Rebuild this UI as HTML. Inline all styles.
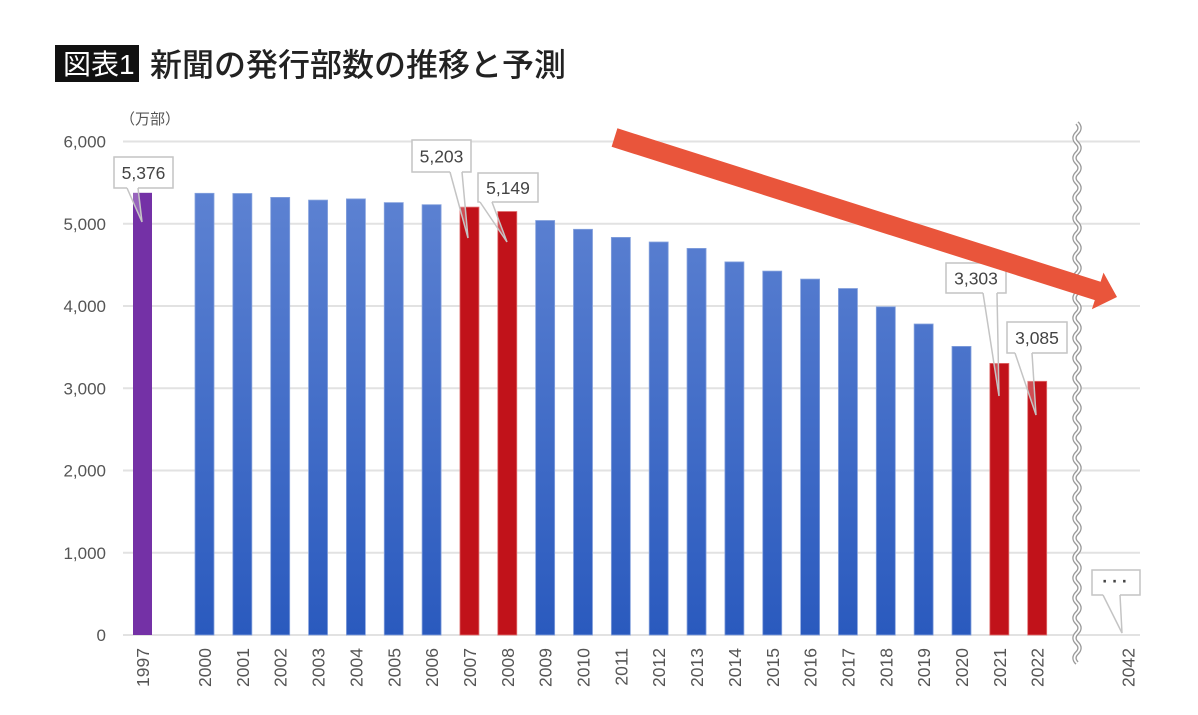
<!DOCTYPE html>
<html><head><meta charset="utf-8"><style>
html,body{margin:0;padding:0;background:#fff;}
svg{display:block;}
text{font-family:"Liberation Sans","Noto Sans CJK JP",sans-serif;}
</style></head><body>
<svg width="1198" height="715" viewBox="0 0 1198 715" xmlns="http://www.w3.org/2000/svg">
<defs>
<linearGradient id="bg" gradientUnits="userSpaceOnUse" x1="0" y1="190" x2="0" y2="635">
<stop offset="0" stop-color="#5d82d2"/><stop offset="1" stop-color="#2a5abe"/>
</linearGradient>
</defs>
<rect width="1198" height="715" fill="#fff"/>
<!-- title -->
<rect x="55" y="45" width="84" height="37" fill="#111"/>
<text x="63" y="74" font-size="28" fill="#fff">図表1</text>
<text x="150" y="76" font-size="32" fill="#222" font-weight="500">新聞の発行部数の推移と予測</text>
<text x="120" y="124" font-size="15" fill="#555">（万部）</text>
<!-- gridlines -->
<g stroke="#e2e2e2" stroke-width="2">
<line x1="123" x2="1140" y1="141.5" y2="141.5"/>
<line x1="123" x2="1140" y1="223.75" y2="223.75"/>
<line x1="123" x2="1140" y1="306" y2="306"/>
<line x1="123" x2="1140" y1="388.25" y2="388.25"/>
<line x1="123" x2="1140" y1="470.5" y2="470.5"/>
<line x1="123" x2="1140" y1="552.75" y2="552.75"/>
<line x1="123" x2="1140" y1="635" y2="635"/>
</g>
<g font-size="17" fill="#555" text-anchor="end">
<text x="106" y="147.5">6,000</text>
<text x="106" y="229.75">5,000</text>
<text x="106" y="312">4,000</text>
<text x="106" y="394.25">3,000</text>
<text x="106" y="476.5">2,000</text>
<text x="106" y="558.75">1,000</text>
<text x="106" y="641">0</text>
</g>
<!-- bars -->
<rect x="133" y="192.8" width="19" height="442.2" fill="#7431a6"/>
<g fill="url(#bg)" stroke="#86a2dd" stroke-width="0.8">
<rect x="195" y="193.3" width="19" height="441.7"/>
<rect x="232.85" y="193.5" width="19" height="441.5"/>
<rect x="270.7" y="197.4" width="19" height="437.6"/>
<rect x="308.55" y="200.1" width="19" height="434.9"/>
<rect x="346.4" y="198.9" width="19" height="436.1"/>
<rect x="384.25" y="202.6" width="19" height="432.4"/>
<rect x="422.1" y="204.7" width="19" height="430.3"/>
<rect x="535.65" y="220.5" width="19" height="414.5"/>
<rect x="573.5" y="229.3" width="19" height="405.7"/>
<rect x="611.35" y="237.4" width="19" height="397.6"/>
<rect x="649.2" y="242" width="19" height="393"/>
<rect x="687.05" y="248.4" width="19" height="386.6"/>
<rect x="724.9" y="261.9" width="19" height="373.1"/>
<rect x="762.75" y="271.1" width="19" height="363.9"/>
<rect x="800.6" y="279.1" width="19" height="355.9"/>
<rect x="838.45" y="288.5" width="19" height="346.5"/>
<rect x="876.3" y="306.8" width="19" height="328.2"/>
<rect x="914.15" y="324" width="19" height="311"/>
<rect x="952" y="346.4" width="19" height="288.6"/>
</g>
<g fill="#c1121a" stroke="#e07070" stroke-width="0.8">
<rect x="459.95" y="207.1" width="19" height="427.9"/>
<rect x="497.8" y="211.5" width="19" height="423.5"/>
<rect x="989.85" y="363.4" width="19" height="271.6"/>
<rect x="1027.7" y="381.3" width="19" height="253.7"/>
</g>
<!-- year labels -->
<g font-size="17.5" fill="#555" text-anchor="end">
<text transform="translate(149,648) rotate(-90)">1997</text>
<text transform="translate(211,648) rotate(-90)">2000</text>
<text transform="translate(248.85,648) rotate(-90)">2001</text>
<text transform="translate(286.7,648) rotate(-90)">2002</text>
<text transform="translate(324.55,648) rotate(-90)">2003</text>
<text transform="translate(362.4,648) rotate(-90)">2004</text>
<text transform="translate(400.25,648) rotate(-90)">2005</text>
<text transform="translate(438.1,648) rotate(-90)">2006</text>
<text transform="translate(475.95,648) rotate(-90)">2007</text>
<text transform="translate(513.8,648) rotate(-90)">2008</text>
<text transform="translate(551.65,648) rotate(-90)">2009</text>
<text transform="translate(589.5,648) rotate(-90)">2010</text>
<text transform="translate(627.35,648) rotate(-90)">2011</text>
<text transform="translate(665.2,648) rotate(-90)">2012</text>
<text transform="translate(703.05,648) rotate(-90)">2013</text>
<text transform="translate(740.9,648) rotate(-90)">2014</text>
<text transform="translate(778.75,648) rotate(-90)">2015</text>
<text transform="translate(816.6,648) rotate(-90)">2016</text>
<text transform="translate(854.45,648) rotate(-90)">2017</text>
<text transform="translate(892.3,648) rotate(-90)">2018</text>
<text transform="translate(930.15,648) rotate(-90)">2019</text>
<text transform="translate(968,648) rotate(-90)">2020</text>
<text transform="translate(1005.85,648) rotate(-90)">2021</text>
<text transform="translate(1043.7,648) rotate(-90)">2022</text>
<text transform="translate(1134.5,648) rotate(-90)">2042</text>
</g>
<!-- wavy break -->
<path d="M1077,123 q5,5 0,10 t0,10 t0,10 t0,10 t0,10 t0,10 t0,10 t0,10 t0,10 t0,10 t0,10 t0,10 t0,10 t0,10 t0,10 t0,10 t0,10 t0,10 t0,10 t0,10 t0,10 t0,10 t0,10 t0,10 t0,10 t0,10 t0,10 t0,10 t0,10 t0,10 t0,10 t0,10 t0,10 t0,10 t0,10 t0,10 t0,10 t0,10 t0,10 t0,10 t0,10 t0,10 t0,10 t0,10 t0,10 t0,10 t0,10 t0,10 t0,10 t0,10 t0,10 t0,10 t0,10 t0,10" fill="none" stroke="#9a9a9a" stroke-width="4.5"/>
<path d="M1077,123 q5,5 0,10 t0,10 t0,10 t0,10 t0,10 t0,10 t0,10 t0,10 t0,10 t0,10 t0,10 t0,10 t0,10 t0,10 t0,10 t0,10 t0,10 t0,10 t0,10 t0,10 t0,10 t0,10 t0,10 t0,10 t0,10 t0,10 t0,10 t0,10 t0,10 t0,10 t0,10 t0,10 t0,10 t0,10 t0,10 t0,10 t0,10 t0,10 t0,10 t0,10 t0,10 t0,10 t0,10 t0,10 t0,10 t0,10 t0,10 t0,10 t0,10 t0,10 t0,10 t0,10 t0,10 t0,10" fill="none" stroke="#fff" stroke-width="1.8"/>
<!-- callouts -->
<g stroke="#c4c4c4" stroke-width="1.5">
<path d="M127,188 H114 V157 H173 V188 H138" fill="#fff"/>
<path d="M127,188 L142,222 L138,188" fill="#fff" fill-opacity="0.25"/>
<path d="M450,172 H412 V140 H471 V172 H462" fill="#fff"/>
<path d="M450,172 L468,238 L462,172" fill="#fff" fill-opacity="0.25"/>
<path d="M480,202 H478 V173 H538 V202 H492" fill="#fff"/>
<path d="M480,202 L507,242 L492,202" fill="#fff" fill-opacity="0.25"/>
<path d="M983,293 H946 V263 H1006 V293 H997" fill="#fff"/>
<path d="M983,293 L999,396 L997,293" fill="#fff" fill-opacity="0.25"/>
<path d="M1015,353 H1007 V322 H1067 V353 H1032" fill="#fff"/>
<path d="M1015,353 L1036,415 L1032,353" fill="#fff" fill-opacity="0.25"/>
<path d="M1103,595 H1092 V570 H1140 V595 H1120" fill="#fff"/>
<path d="M1103,595 L1122,633 L1120,595" fill="#fff" fill-opacity="0.25"/>
</g>
<g font-size="17.5" fill="#444" text-anchor="middle">
<text x="143.5" y="179">5,376</text>
<text x="441.5" y="162.5">5,203</text>
<text x="508" y="194">5,149</text>
<text x="976" y="284.5">3,303</text>
<text x="1037" y="344">3,085</text>
<text x="1117" y="587" font-weight="bold" letter-spacing="4">···</text>
</g>
<!-- arrow -->
<polygon points="617.4,128.3 1100.6,281.7 1103.5,272.6 1117,297 1091.9,309.2 1094.8,300.1 611.6,146.7" fill="#e9553b"/>
</svg>
</body></html>
